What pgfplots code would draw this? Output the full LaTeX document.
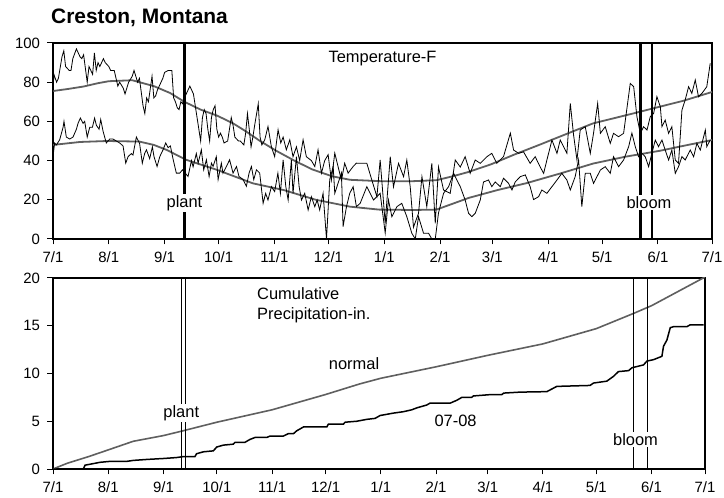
\documentclass[border=0pt]{standalone}
\usepackage{fontspec}
\setmainfont{Liberation Sans}
\usepackage{pgfplots}
\pgfplotsset{compat=1.18}
\definecolor{normgray}{RGB}{95,95,95}
\tikzset{lbl/.style={font=\fontsize{16.5}{19.5}\selectfont}}
\pgfplotsset{
  chart/.style={
    scale only axis,
    xmin=0, xmax=366,
    xtick={0,31,62,92,123,153,184,215,244,275,305,336,366},
    xticklabels={7/1,8/1,9/1,10/1,11/1,12/1,1/1,2/1,3/1,4/1,5/1,6/1,7/1},
    tick pos=left, tick align=outside, major tick length=5.5bp,
    axis line style={line width=1.2bp},
    every tick/.style={black, line width=1bp},
    tick label style={font=\fontsize{15}{18}\selectfont},
    xticklabel style={yshift=-4bp},
    yticklabel style={xshift=-4bp},
    /pgf/number format/assume math mode=true,
  }
}
\begin{document}
\begin{tikzpicture}
\useasboundingbox (0bp,0bp) rectangle (724bp,498bp);
\node[anchor=west, font=\fontsize{21}{25}\selectfont\bfseries, inner sep=0pt] at (51bp,480bp) {Creston, Montana};
% ---------------- Temperature ----------------
\begin{scope}[shift={(53bp,259bp)}]
\begin{axis}[chart, at={(0pt,0pt)}, anchor=south west, width=659bp, height=196bp,
  ymin=0, ymax=100, ytick={0,20,40,60,80,100}]
% normal max
\addplot[normgray, line width=1.8bp] coordinates {
(0,75.5) (8,76.5) (17,77.8) (25,79.5) (31,80.5) (44,81) (56,78) (65,74.5) (73,70) (82,66)
(91,63) (100,59) (107,55) (115,50) (124,45) (134,40) (144,35.5) (155,32) (165,30.2)
(182,29.5) (200,29.5) (213,30) (222,32) (230,34) (243,38) (256,43) (270,48) (289,55)
(300,59) (311,61.5) (322,64) (337,67.5) (350,70.5) (366,75)};
% normal min
\addplot[normgray, line width=1.8bp] coordinates {
(0,48) (15,49.5) (30,50) (48,49.7) (56,48) (63,45.5) (74,40.4) (91,35.3) (111,28.4)
(128,25) (146,20) (165,16.5) (181,15) (200,14.8) (213,15) (222,18) (231,21) (247,25)
(263,28.5) (282,33.5) (300,38.5) (318,42) (337,45) (350,47.5) (366,50.5)};
% daily max
\addplot[black, line width=0.8bp] coordinates {
(0,75) (0.5,84) (2,80) (3,82) (5,93) (6,96) (7,88) (9,86) (10,86) (11,92) (13,97) (14,95)
(15,93) (16,92) (17,94) (19,80) (20,88) (22,84) (23,95) (24,86) (25,90) (26,88) (28,92)
(29,90) (31,88) (32,86) (34,86) (36,78) (37,80) (39,77) (40,74) (42,80) (44,83) (45,86)
(47,80) (48,82) (49,75) (50,68) (51,64) (52,72) (53,70) (55,83) (56,72) (57,73) (58,76)
(60,80) (61,82) (62,85) (64,86) (66,86) (67,72) (68,70) (69,67) (70,66) (71,70) (72,69)
(73,72) (74,74) (76,78) (77,76) (78,74) (80,62) (81,56) (82,50) (83,62) (84,66) (85,64)
(86,56) (87,50) (88,62) (89,66) (90,68) (91,56) (92,52) (93,54) (94,52) (95,49) (97,50)
(98,56) (99,62) (100,58) (101,52) (103,50) (104,50) (106,48) (107,54) (108,64) (109,56)
(110,47) (111,52) (112,58) (114,69) (115,52) (116,48) (117.6,50.6) (119.4,57.4) (121.3,47)
(123.1,42) (125,55.7) (126.5,49) (127.8,52) (129.6,45.5) (131.5,50.6) (133.3,42) (135.2,47)
(137,40) (138.9,50.6) (140.7,42) (143.5,40) (145.4,37) (147.2,45.5) (149.1,33.6) (150.9,40)
(152.8,43) (154.6,30) (156.5,43.8) (158.3,37) (160.2,30) (162,38.7) (163.9,33.6) (166.7,37)
(168.5,38.7) (170.6,38.6) (174.3,38.6) (177.1,30) (179.9,21.6) (181.7,40.3) (184.5,8)
(187.3,42) (189.1,26.6) (191.9,38.6) (194.7,31.8) (196.5,40.3) (198.4,26.6) (200.2,6)
(203,13.1) (204.9,31.8) (207.6,16.5) (210.4,38.6) (212.3,8) (214.1,36.7) (216.9,25)
(220.6,23.3) (223.4,40.3) (226.2,36.7) (228.9,42) (231.7,33.5) (234.5,40.3) (237.3,38.6)
(241,42) (243.7,43.7) (246.5,38.6) (250.2,42) (254,54) (255.8,45.4) (258.6,43.7) (261.3,44.5)
(265,38.6) (267.8,42) (270.6,36.7) (272.5,33.5) (274.3,40.3) (277.1,50.5) (279.9,43.7)
(281.7,50.5) (285.4,43.7) (287.3,69.2) (289.1,53.2) (291,40.3) (292.8,55.6) (295.6,57.3)
(298.4,43.7) (300.2,53.9) (302.5,69.2) (304,53.9) (306.7,57.3) (309.5,48.8) (311.3,53.9)
(314.1,52.2) (316.9,53.9) (320.6,79.4) (322.5,77.7) (324.3,62.4) (326.2,53.9) (328,57.3)
(329.9,55.6) (331.7,62.4) (333.6,64.1) (335.4,72.6) (337.3,67.5) (338.2,57.3) (340,60.7)
(341.9,53.9) (343.7,57.3) (345.6,40.3) (347.4,38.6) (349.3,65.8) (351.1,70.9) (353,77.7)
(354.8,74.3) (356.7,81.1) (358.5,72.6) (360.4,74.3) (363.1,77.7) (365,89.6)};
% daily min
\addplot[black, line width=0.8bp] coordinates {
(0,42) (0.9,49) (1.9,48) (3.7,50.6) (5.6,57) (6.1,60) (7.4,52) (9.3,51) (11.1,52) (13,56)
(13.9,59) (15.2,61.7) (16.7,59) (17.6,60) (19,52) (20.4,57) (21.9,57) (23.1,61.7) (24.1,58)
(25.6,56) (26.5,61) (27.8,55) (29.6,49) (31.5,51) (33.3,51) (35.2,50) (37,49) (38.9,47.5)
(40.4,38.7) (41.7,42) (43.5,43.6) (44.4,42.8) (46.3,52) (48.1,48.7) (49.6,38.7) (50.9,43.6)
(51.9,45.5) (53.7,41) (55.2,47) (56.1,42) (57.8,37) (59.3,42) (61.1,45.5) (62.6,49) (63.9,46.6)
(65.2,47.5) (66.7,40.7) (68.5,33.6) (70.4,33.6) (71.9,35.3) (75,31.9) (76.9,40) (77.8,36.8)
(79.6,43.6) (80.6,38.7) (82.4,45.5) (83.7,35.3) (85.2,40.4) (86.7,31.9) (88,38.7) (88.9,37)
(90.7,42) (91.7,30.3) (93.5,38.7) (94.4,33.6) (96.3,37) (98.1,40.4) (100,33.6) (101.9,37)
(103.3,31.9) (105.6,30.3) (107.4,26.9) (108.9,33.6) (110.2,37) (111.5,30.3) (113,35.3)
(114.8,33.6) (116.7,18.2) (118.1,23.3) (119.4,19.9) (121.3,26.7) (123.1,24.2) (124.9,33.6)
(126.3,23.3) (127.8,40.4) (129.3,26.7) (130.6,19.9) (132.4,40.4) (133.3,23.3) (135.2,42)
(136.7,26.7) (138,19.9) (139.8,23.3) (141.7,14.8) (143.5,21.6) (145.4,16.5) (146.7,19.9)
(148.1,14.8) (150,23.3) (151.9,0) (153.7,30.3) (155.6,37) (156.5,23.3) (158.3,28.4)
(160.2,33.6) (161.1,6.3) (163,16.5) (164.8,23.3) (166.7,26.7) (168.5,16.5) (170.6,18.2)
(174.3,26.7) (178,19.9) (181.7,23.3) (184.5,3.1) (186.3,19.9) (188.2,11.4) (191,16.5)
(193.7,18.2) (196.5,11.4) (199.3,2.9) (201.2,0) (203,11.4) (205.8,2.9) (208.6,2.9) (210.4,0)
(212.3,0) (214.1,13.3) (216.9,23.3) (219.7,26.7) (222.5,33.5) (224.3,30.1) (226.2,26.7)
(228.9,19.9) (230.8,13.1) (232.6,11.4) (234.5,13.1) (237.3,19.9) (239.1,29.1) (241.9,30.1)
(243.7,26.7) (245.6,29.1) (248.4,26.7) (250.2,31) (253,28.4) (254.9,25) (256.7,29.1)
(259.5,31.8) (262.3,32.7) (265,26.7) (266.9,20.1) (269.7,21.6) (271.5,25) (274.3,23.3)
(277.1,26.7) (279.9,30.1) (282.6,33.5) (285.4,30.1) (287.3,25) (290,31.8) (291.9,40.3)
(293.7,16.5) (295.6,33.5) (298.4,33.5) (300.2,28.4) (302.1,31.8) (304,35.2) (306.7,36.9)
(309.5,33.5) (311.3,42) (314.1,36.9) (316.9,40.3) (319.7,47.1) (321.5,54) (323.4,47.1)
(325.2,42) (327.1,43.7) (328.9,42) (330.8,36.9) (332.6,43.7) (334.5,50.5) (336.3,47.1)
(338.2,50.5) (340,45.4) (341.9,40.3) (343.7,45.4) (345.6,33.5) (347.4,36.9) (349.3,42)
(351.1,40.3) (353.9,45.4) (355.8,42) (357.6,48.8) (359.5,45.4) (362.3,55.6) (363.1,47.1)
(365,50.5)};
% plant and bloom markers
\addplot[black, line width=3.2bp] coordinates {(73,0) (73,100)};
\addplot[black, line width=2.2bp] coordinates {(326.3,0) (326.3,100)};
\addplot[black, line width=2.2bp] coordinates {(332.8,0) (332.8,100)};
\node[lbl, fill=white, inner sep=1.5pt] at (axis cs:73,18.4) {plant};
\node[lbl, fill=white, inner sep=1.5pt] at (axis cs:331,18.4) {bloom};
\node[lbl] at (axis cs:183,92.3) {Temperature-F};
\end{axis}
\end{scope}
% ---------------- Precipitation ----------------
\begin{scope}[shift={(53bp,29bp)}]
\begin{axis}[chart, at={(0pt,0pt)}, anchor=south west, width=652bp, height=191bp,
  ymin=0, ymax=20, ytick={0,5,10,15,20}]
\addplot[normgray, line width=1.6bp] coordinates {
(0,0) (8,0.6) (20,1.3) (31,2.0) (45,2.9) (62,3.5) (73,4.0) (92,4.9) (123,6.2) (153,7.8)
(172,8.9) (184,9.5) (215,10.7) (244,11.9) (275,13.1) (305,14.7) (326,16.3) (336,17.1)
(350,18.5) (366,20.1)};
\addplot[black, line width=1.5bp] coordinates {
(0,0) (17,0) (18,0.4) (20.8,0.5) (26.4,0.7) (32,0.8) (41.4,0.8) (45.1,0.9) (52.6,1.0)
(62,1.1) (69.4,1.2) (73.2,1.3) (79.7,1.3) (80.6,1.6) (84.4,1.8) (90,1.9) (91.9,2.3)
(95.6,2.5) (101.2,2.6) (102.2,2.8) (107.8,2.8) (110.6,3.1) (113.4,3.3) (120,3.3)
(121.8,3.45) (129.3,3.45) (132.1,3.7) (135,3.7) (136.8,4.0) (140.6,4.4) (153.7,4.4)
(154.6,4.7) (163,4.7) (164,4.9) (170.5,5.0) (176.2,5.2) (180.8,5.3) (182.7,5.5) (183.6,5.6)
(191,5.85) (196.7,6.0) (201.4,6.2) (204.2,6.4) (209.8,6.7) (211.7,6.9) (223,6.9) (226.7,7.2)
(229.5,7.5) (235,7.5) (236,7.65) (246.3,7.8) (252,7.8) (253,7.95) (262.2,8.05) (277.2,8.1)
(282.8,8.65) (301.5,8.75) (303.4,9.0) (310.9,9.2) (314.6,9.7) (317.4,10.2) (323.1,10.3)
(325,10.6) (331.5,10.9) (333.4,11.3) (337.1,11.45) (341.8,11.8) (342.7,12.85) (344.6,13.5)
(346.5,14.8) (348.3,14.9) (355.8,14.9) (357.7,15.1) (365.2,15.1)};
\addplot[black, line width=1bp] coordinates {(72.3,0) (72.3,20)};
\addplot[black, line width=1bp] coordinates {(74.1,0) (74.1,20)};
\addplot[black, line width=1.2bp] coordinates {(325.7,0) (325.7,20)};
\addplot[black, line width=1.2bp] coordinates {(333.5,0) (333.5,20)};
\node[lbl, fill=white, inner sep=1.5pt] at (axis cs:72,5.86) {plant};
\node[lbl, fill=white, inner sep=1.5pt] at (axis cs:327,3.04) {bloom};
\node[lbl] at (axis cs:169,11) {normal};
\node[lbl] at (axis cs:226,5.0) {07-08};
\node[lbl, anchor=north west, align=left, inner sep=0pt] at (axis cs:114.5,19.0)
  {Cumulative\\Precipitation-in.};
\end{axis}
\end{scope}
\end{tikzpicture}
\end{document}
